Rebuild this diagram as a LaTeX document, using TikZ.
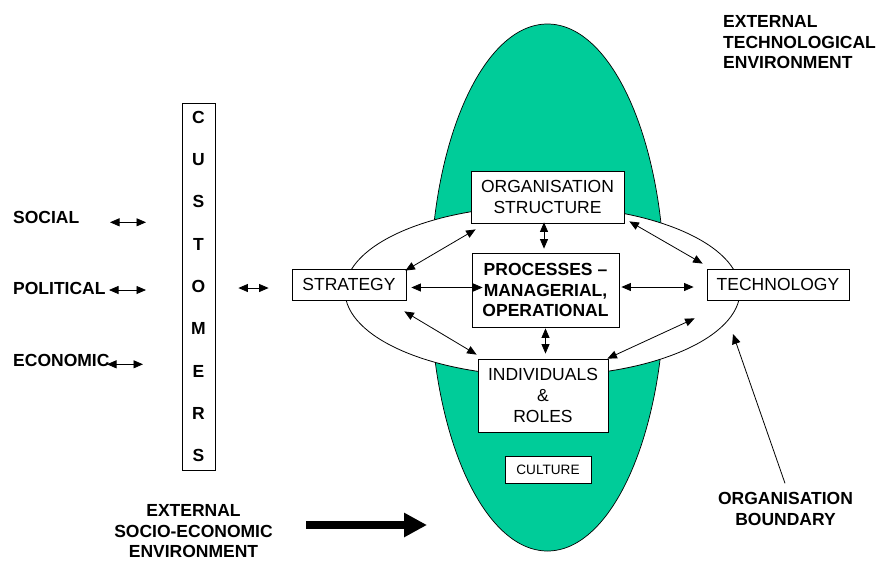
\documentclass[tikz,border=0pt]{standalone}
\usepackage{fontspec}
\setmainfont{Liberation Sans}
\usetikzlibrary{arrows.meta,calc}
\definecolor{orggreen}{RGB}{0,204,153}
\newcommand\mainfs{\fontsize{17.5}{20.8}\selectfont}
\newcommand\labfs{\fontsize{17.5}{20.8}\selectfont\bfseries}
\begin{document}
\begin{tikzpicture}[x=1pt,y=-1pt,
  box/.style={draw, fill=white, line width=0.8pt, inner sep=0pt, align=center, font=\mainfs},
  lab/.style={inner sep=0pt, font=\labfs},
  dbl/.style={{Triangle[length=9.5pt,width=8pt]}-{Triangle[length=9.5pt,width=8pt]}, line width=0.8pt},
  sgl/.style={-{Triangle[length=10pt,width=8.5pt]}, line width=0.8pt}
]
\useasboundingbox (0,0) rectangle (876,560);
% organisation body and boundary
\draw[fill=orggreen, line width=0.7pt] (547.5,287.5) ellipse [x radius=117pt, y radius=263.5pt];
\draw[fill=white, line width=0.8pt] (542.5,291) ellipse [x radius=197.5pt, y radius=85pt];
% boxes
\node[box, minimum width=33pt, minimum height=367pt, font=\fontsize{17.5}{42.3}\selectfont\bfseries] (cust) at (198.5,286.5) {C\\U\\S\\T\\O\\M\\E\\R\\S};
\node[box, minimum width=114pt, minimum height=31pt] (strategy) at (349,284.5) {STRATEGY};
\node[box, minimum width=153pt, minimum height=52pt] (org) at (547.5,197) {ORGANISATION\\STRUCTURE};
\node[box, minimum width=147pt, minimum height=74pt, font=\mainfs\bfseries] (proc) at (545.5,290) {PROCESSES --\\MANAGERIAL,\\OPERATIONAL};
\node[box, minimum width=130pt, minimum height=73pt] (indiv) at (543,395.5) {INDIVIDUALS\\\&\\ROLES};
\node[box, minimum width=86pt, minimum height=27pt, font=\fontsize{13.6}{16}\selectfont] (culture) at (548,469.5) {CULTURE};
\node[box, minimum width=142pt, minimum height=31pt] (tech) at (778,284.5) {TECHNOLOGY};
% labels
\node[lab, anchor=base west] (social) at (13,223.3) {SOCIAL};
\node[lab, anchor=base west] (political) at (13,294.3) {POLITICAL};
\node[lab, anchor=base west] (economic) at (13,366) {ECONOMIC};
\node[lab, anchor=north west, align=left] (exttech) at (723,15) {EXTERNAL\\TECHNOLOGICAL\\ENVIRONMENT};
\node[lab, anchor=north, align=center] (extsocio) at (193.5,504) {EXTERNAL\\SOCIO-ECONOMIC\\ENVIRONMENT};
\node[lab, anchor=north, align=center] (boundary) at (785.5,492.3) {ORGANISATION\\BOUNDARY};
% environment arrows
\draw[dbl] ($(social.base west)+(97,-1)$) -- ($(social.base west)+(133,-1)$);
\draw[dbl] ($(political.base west)+(96,-4.3)$) -- ($(political.base west)+(133,-4.3)$);
\draw[dbl] ($(economic.base west)+(94,-1.7)$) -- ($(economic.base west)+(130,-1.7)$);
\draw[dbl] ($(cust.east)+(23,1.5)$) -- ($(strategy.west)+(-23,3.5)$);
% internal arrows
\draw[dbl] ($(strategy.north east)+(-1,2)$) -- ($(org.south west)+(5,6)$);
\draw[dbl] ($(strategy.east)+(5,3)$) -- ($(proc.west)+(11,-2.5)$);
\draw[dbl] ($(strategy.south east)+(-2,11)$) -- ($(indiv.north west)+(-1,-4)$);
\draw[dbl] ($(org.south)+(-3.5,-1)$) -- ($(proc.north)+(-1.5,-4)$);
\draw[dbl] ($(proc.south)+(0,1)$) -- ($(indiv.north)+(2.5,-5)$);
\draw[dbl] ($(org.south east)+(5,-2)$) -- ($(tech.north west)+(-4,-5)$);
\draw[dbl] ($(proc.east)+(2,-3)$) -- ($(tech.west)+(-13,2.5)$);
\draw[dbl] ($(indiv.north east)+(-1,0)$) -- ($(tech.south west)+(-12,18)$);
% boundary pointer
\coordinate (btip) at (733,334);
\draw[sgl] ($(boundary.north)+(-0.5,-9)$) -- (btip);
% big environment arrow
\coordinate (bigtail) at (306,525);
\coordinate (bighead) at (427,525);
\draw[line width=7.7pt, -{Triangle[length=23pt,width=23pt]}] (bigtail) -- (bighead);
\end{tikzpicture}
\end{document}
